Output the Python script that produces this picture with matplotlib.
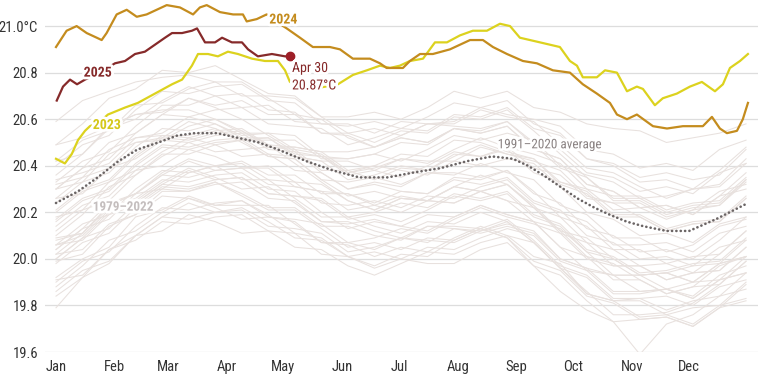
import matplotlib
matplotlib.use("Agg")
import matplotlib.pyplot as plt
import matplotlib.patheffects as pe
import logging

logging.getLogger('matplotlib.font_manager').setLevel(logging.ERROR)

plt.rcParams['font.family'] = ['Roboto Condensed', 'Liberation Sans Narrow', 'Roboto', 'DejaVu Sans']

# x = day of year
month_days = [0, 31, 59, 90, 120, 151, 181, 212, 243, 273, 304, 334]
month_labels = ['Jan', 'Feb', 'Mar', 'Apr', 'May', 'Jun', 'Jul', 'Aug', 'Sep', 'Oct', 'Nov', 'Dec']
y_ticks = [19.6, 19.8, 20.0, 20.2, 20.4, 20.6, 20.8, 21.0]
y_labels = ['19.6', '19.8', '20.0', '20.2', '20.4', '20.6', '20.8', '21.0°C']

# 2024
days_2024 = [0, 5.6, 10.9, 16.2, 21.5, 24.1, 26.7, 32, 37.3, 42.6, 47.8, 53.1, 58.4, 65.4, 72.3, 75.9,
             79.5, 86.5, 93.4, 98.6, 100.6, 105.9, 111.1, 116, 121.7, 128.7, 135.5, 144.5, 149.8, 156.6,
             165.6, 170.9, 174.4, 183, 186.7, 192, 198.8, 207.8, 213.1, 218.4, 225.2, 230.5, 237.9,
             246.3, 253.7, 262.1, 271.1, 277.9, 285.3, 292.2, 295.9, 301.2, 306.4, 314.9, 322.3,
             330.7, 341.2, 346, 350.2, 353.9, 359.2, 362.3, 365]
sst_2024 = [20.91, 20.98, 21.00, 20.97, 20.95, 20.94, 20.97, 21.05, 21.07, 21.04, 21.05, 21.07, 21.09,
            21.08, 21.05, 21.08, 21.09, 21.06, 21.05, 21.05, 21.02, 21.03, 21.05, 21.02, 20.99, 20.95,
            20.91, 20.91, 20.90, 20.86, 20.86, 20.84, 20.82, 20.82, 20.85, 20.88, 20.88, 20.90, 20.92,
            20.94, 20.94, 20.91, 20.88, 20.85, 20.84, 20.81, 20.80, 20.75, 20.71, 20.67, 20.62, 20.60,
            20.62, 20.57, 20.56, 20.57, 20.57, 20.61, 20.56, 20.54, 20.55, 20.60, 20.67]

# 2023
days_2023 = [0, 4.7, 8.3, 11.6, 15.3, 17.9, 23.2, 27.4, 36.4, 43.2, 52.2, 61.2, 66.5, 71.7, 74.9, 80.2,
             85.4, 90.7, 96, 103.4, 110.2, 117.1, 120.8, 123.4, 135.5, 148.7, 156.6, 164, 170.9, 176.2,
             181.4, 186.7, 193.6, 199.9, 206.2, 213.1, 219.9, 227.3, 234.2, 239.5, 244.7, 255.3, 265.8,
             271.1, 274.8, 277.9, 285.3, 289.6, 295.9, 301.2, 306.4, 309.6, 315.9, 320.1, 327.5, 334.4,
             340.7, 347.6, 351.8, 355.5, 360.8, 365]
sst_2023 = [20.43, 20.41, 20.45, 20.51, 20.55, 20.57, 20.59, 20.62, 20.65, 20.67, 20.71, 20.75, 20.77,
            20.83, 20.88, 20.88, 20.87, 20.89, 20.88, 20.86, 20.85, 20.85, 20.81, 20.76, 20.73, 20.75,
            20.79, 20.81, 20.83, 20.82, 20.83, 20.85, 20.86, 20.93, 20.93, 20.96, 20.98, 20.98, 21.01,
            21.00, 20.95, 20.93, 20.91, 20.85, 20.83, 20.78, 20.78, 20.81, 20.80, 20.72, 20.74, 20.73,
            20.66, 20.69, 20.71, 20.74, 20.76, 20.72, 20.75, 20.82, 20.85, 20.88]

# 2025 (to Apr 30)
days_2025 = [0.4, 3.7, 7.4, 11.1, 15.3, 23.2, 31.1, 36.4, 41.7, 46.9, 52.2, 57.5, 61.2, 66.5, 71.7, 74.4,
             78.6, 83.9, 87.6, 92.8, 98.1, 101.3, 106.5, 113.9, 120.8, 123.4]
sst_2025 = [20.68, 20.74, 20.77, 20.75, 20.77, 20.80, 20.84, 20.85, 20.88, 20.89, 20.92, 20.95, 20.97,
            20.97, 20.98, 20.99, 20.93, 20.93, 20.95, 20.93, 20.93, 20.90, 20.87, 20.88, 20.87, 20.87]

# 1991-2020 average
days_avg = [0, 11.6, 22, 33, 43, 54, 64, 73, 85, 96, 107, 117, 132, 146, 160, 175, 188, 203, 217, 230,
            241, 249, 257, 266, 275, 284, 292, 301, 310, 322, 334, 348, 365]
sst_avg = [20.24, 20.29, 20.35, 20.42, 20.47, 20.50, 20.53, 20.54, 20.54, 20.52, 20.50, 20.47, 20.42,
           20.38, 20.35, 20.35, 20.37, 20.39, 20.42, 20.44, 20.43, 20.40, 20.36, 20.31, 20.26, 20.22,
           20.19, 20.16, 20.14, 20.12, 20.12, 20.17, 20.24]

# 1979-2022, one value every 14 days
days_old = [0, 14, 28, 42, 56, 70, 84, 98, 112, 126, 140, 154, 168, 182, 196, 210, 224, 238, 252,
            266, 280, 294, 308, 322, 336, 350, 364]
sst_old = {
    1979: [19.92, 20.00, 20.05, 20.18, 20.21, 20.27, 20.23, 20.23, 20.23, 20.15, 20.07, 20.07, 20.04, 20.09, 20.08, 20.07, 20.12, 20.15, 20.12, 20.00, 19.96, 19.93, 19.86, 19.87, 19.83, 19.91, 19.94],
    1980: [19.99, 20.02, 20.14, 20.19, 20.29, 20.29, 20.33, 20.28, 20.22, 20.22, 20.14, 20.14, 20.10, 20.08, 20.14, 20.14, 20.13, 20.17, 20.08, 19.97, 19.93, 19.83, 19.83, 19.84, 19.80, 19.88, 19.91],
    1981: [19.88, 19.97, 20.08, 20.12, 20.20, 20.26, 20.22, 20.17, 20.18, 20.16, 20.07, 20.06, 20.01, 20.05, 20.03, 20.09, 20.14, 20.10, 20.01, 19.98, 19.85, 19.82, 19.83, 19.78, 19.82, 19.84, 19.87],
    1982: [19.84, 19.92, 20.04, 20.10, 20.18, 20.17, 20.20, 20.22, 20.16, 20.09, 20.08, 20.01, 19.97, 20.02, 20.01, 20.08, 20.13, 20.09, 19.97, 19.86, 19.78, 19.73, 19.59, 19.72, 19.76, 19.84, 19.94],
    1983: [20.06, 20.10, 20.21, 20.25, 20.33, 20.39, 20.35, 20.30, 20.31, 20.24, 20.16, 20.16, 20.12, 20.09, 20.14, 20.13, 20.12, 20.16, 20.07, 19.96, 19.85, 19.82, 19.75, 19.76, 19.72, 19.80, 19.83],
    1984: [19.79, 19.92, 19.98, 20.10, 20.12, 20.19, 20.16, 20.11, 20.12, 20.11, 20.02, 20.01, 19.96, 20.00, 19.98, 19.98, 20.04, 20.07, 19.97, 19.93, 19.82, 19.73, 19.74, 19.75, 19.71, 19.79, 19.89],
    1985: [19.91, 19.93, 20.04, 20.08, 20.16, 20.15, 20.18, 20.19, 20.12, 20.05, 20.04, 19.97, 19.93, 19.98, 20.03, 20.02, 20.07, 20.10, 20.07, 19.96, 19.92, 19.82, 19.82, 19.76, 19.79, 19.80, 19.90],
    1986: [19.90, 19.99, 20.03, 20.14, 20.22, 20.21, 20.24, 20.25, 20.18, 20.17, 20.15, 20.07, 20.09, 20.13, 20.11, 20.17, 20.22, 20.18, 20.15, 20.11, 20.00, 19.97, 19.97, 19.91, 19.94, 19.95, 20.05],
    1987: [20.04, 20.13, 20.24, 20.28, 20.36, 20.42, 20.38, 20.39, 20.39, 20.31, 20.29, 20.28, 20.23, 20.27, 20.25, 20.31, 20.36, 20.32, 20.23, 20.12, 20.01, 19.98, 19.91, 19.85, 19.88, 19.89, 19.99],
    1988: [20.06, 20.08, 20.19, 20.23, 20.31, 20.30, 20.33, 20.27, 20.21, 20.21, 20.13, 20.05, 20.07, 20.04, 20.09, 20.08, 20.13, 20.09, 19.99, 19.95, 19.84, 19.81, 19.74, 19.75, 19.71, 19.79, 19.82],
    1989: [19.86, 19.95, 19.99, 20.10, 20.18, 20.24, 20.20, 20.21, 20.14, 20.13, 20.11, 20.03, 20.05, 20.09, 20.07, 20.13, 20.11, 20.14, 20.11, 20.00, 19.96, 19.86, 19.86, 19.87, 19.83, 19.91, 19.94],
    1990: [20.00, 20.09, 20.20, 20.24, 20.32, 20.38, 20.34, 20.35, 20.28, 20.27, 20.25, 20.17, 20.19, 20.16, 20.21, 20.27, 20.25, 20.28, 20.18, 20.14, 20.03, 20.00, 19.93, 19.94, 19.97, 19.98, 20.08],
    1991: [20.08, 20.11, 20.23, 20.28, 20.30, 20.37, 20.40, 20.34, 20.34, 20.26, 20.18, 20.18, 20.14, 20.11, 20.16, 20.15, 20.20, 20.16, 20.07, 19.96, 19.86, 19.76, 19.76, 19.77, 19.81, 19.89, 19.99],
    1992: [20.02, 20.04, 20.15, 20.19, 20.27, 20.26, 20.23, 20.25, 20.19, 20.11, 20.09, 20.01, 20.03, 20.00, 20.05, 20.04, 20.09, 20.13, 20.10, 19.99, 19.95, 19.85, 19.85, 19.87, 19.84, 19.93, 19.97],
    1993: [19.98, 20.07, 20.11, 20.22, 20.30, 20.29, 20.32, 20.33, 20.26, 20.25, 20.16, 20.15, 20.17, 20.14, 20.19, 20.18, 20.23, 20.19, 20.16, 20.05, 20.01, 19.91, 19.91, 19.85, 19.88, 19.97, 20.01],
    1994: [20.06, 20.15, 20.19, 20.30, 20.38, 20.37, 20.40, 20.41, 20.34, 20.33, 20.24, 20.23, 20.25, 20.22, 20.27, 20.26, 20.31, 20.34, 20.24, 20.20, 20.16, 20.06, 20.06, 20.07, 20.03, 20.11, 20.14],
    1995: [20.18, 20.21, 20.33, 20.38, 20.40, 20.47, 20.44, 20.39, 20.40, 20.33, 20.32, 20.25, 20.21, 20.26, 20.25, 20.24, 20.29, 20.25, 20.16, 20.13, 20.03, 19.93, 19.93, 19.94, 19.90, 19.98, 20.01],
    1996: [20.00, 20.09, 20.13, 20.24, 20.32, 20.31, 20.34, 20.35, 20.28, 20.27, 20.26, 20.18, 20.20, 20.24, 20.22, 20.28, 20.26, 20.29, 20.19, 20.15, 20.04, 20.01, 19.94, 19.95, 19.98, 19.99, 20.09],
    1997: [20.12, 20.21, 20.25, 20.36, 20.44, 20.50, 20.46, 20.47, 20.48, 20.48, 20.46, 20.46, 20.48, 20.53, 20.58, 20.59, 20.65, 20.62, 20.60, 20.57, 20.47, 20.45, 20.39, 20.41, 20.38, 20.47, 20.51],
    1998: [20.49, 20.52, 20.57, 20.62, 20.64, 20.64, 20.60, 20.55, 20.49, 20.41, 20.33, 20.25, 20.21, 20.26, 20.25, 20.24, 20.29, 20.25, 20.22, 20.11, 20.07, 19.97, 19.97, 19.91, 19.94, 19.95, 20.05],
    1999: [20.09, 20.11, 20.22, 20.26, 20.34, 20.33, 20.36, 20.37, 20.30, 20.29, 20.20, 20.13, 20.16, 20.14, 20.12, 20.18, 20.23, 20.19, 20.16, 20.05, 19.95, 19.93, 19.93, 19.87, 19.90, 19.91, 20.01],
    2000: [20.04, 20.13, 20.17, 20.28, 20.36, 20.35, 20.38, 20.39, 20.32, 20.31, 20.29, 20.21, 20.23, 20.20, 20.25, 20.31, 20.29, 20.32, 20.22, 20.18, 20.07, 20.04, 19.97, 19.98, 19.94, 20.02, 20.12],
    2001: [20.16, 20.25, 20.29, 20.40, 20.48, 20.47, 20.50, 20.51, 20.44, 20.43, 20.34, 20.33, 20.35, 20.32, 20.37, 20.36, 20.41, 20.37, 20.34, 20.23, 20.19, 20.09, 20.09, 20.03, 20.06, 20.14, 20.17],
    2002: [20.20, 20.29, 20.33, 20.44, 20.52, 20.51, 20.54, 20.55, 20.48, 20.47, 20.45, 20.37, 20.39, 20.43, 20.41, 20.47, 20.52, 20.48, 20.45, 20.41, 20.30, 20.27, 20.27, 20.21, 20.24, 20.25, 20.35],
    2003: [20.32, 20.35, 20.47, 20.52, 20.54, 20.61, 20.58, 20.53, 20.54, 20.47, 20.38, 20.38, 20.34, 20.39, 20.38, 20.45, 20.44, 20.48, 20.39, 20.36, 20.26, 20.24, 20.18, 20.12, 20.15, 20.16, 20.26],
    2004: [20.26, 20.28, 20.39, 20.43, 20.51, 20.50, 20.53, 20.54, 20.47, 20.46, 20.44, 20.36, 20.38, 20.35, 20.40, 20.46, 20.44, 20.47, 20.37, 20.33, 20.29, 20.19, 20.19, 20.13, 20.16, 20.17, 20.27],
    2005: [20.30, 20.33, 20.45, 20.50, 20.52, 20.59, 20.56, 20.51, 20.52, 20.45, 20.44, 20.37, 20.40, 20.38, 20.36, 20.42, 20.40, 20.43, 20.41, 20.31, 20.20, 20.17, 20.10, 20.11, 20.07, 20.15, 20.18],
    2006: [20.17, 20.26, 20.30, 20.41, 20.49, 20.48, 20.51, 20.52, 20.45, 20.44, 20.42, 20.34, 20.36, 20.40, 20.38, 20.44, 20.49, 20.45, 20.42, 20.38, 20.27, 20.24, 20.24, 20.18, 20.21, 20.29, 20.32],
    2007: [20.34, 20.37, 20.41, 20.52, 20.53, 20.53, 20.56, 20.50, 20.44, 20.43, 20.34, 20.27, 20.29, 20.26, 20.25, 20.31, 20.29, 20.32, 20.22, 20.12, 20.09, 20.00, 19.93, 19.94, 19.90, 19.98, 20.01],
    2008: [20.02, 20.11, 20.23, 20.28, 20.37, 20.43, 20.40, 20.42, 20.36, 20.36, 20.28, 20.28, 20.24, 20.29, 20.28, 20.35, 20.34, 20.38, 20.29, 20.18, 20.14, 20.04, 20.04, 19.98, 20.01, 20.02, 20.12],
    2009: [20.14, 20.23, 20.27, 20.38, 20.46, 20.52, 20.49, 20.51, 20.51, 20.51, 20.43, 20.43, 20.45, 20.50, 20.49, 20.56, 20.55, 20.59, 20.50, 20.47, 20.37, 20.35, 20.29, 20.31, 20.28, 20.37, 20.41],
    2010: [20.42, 20.45, 20.57, 20.62, 20.63, 20.69, 20.65, 20.60, 20.53, 20.46, 20.37, 20.30, 20.32, 20.29, 20.28, 20.34, 20.32, 20.35, 20.25, 20.21, 20.10, 20.07, 20.00, 20.01, 19.97, 20.05, 20.08],
    2011: [20.10, 20.19, 20.31, 20.36, 20.45, 20.45, 20.49, 20.44, 20.45, 20.38, 20.37, 20.30, 20.33, 20.31, 20.37, 20.37, 20.35, 20.38, 20.28, 20.24, 20.13, 20.10, 20.03, 20.04, 20.00, 20.08, 20.18],
    2012: [20.21, 20.30, 20.34, 20.45, 20.53, 20.52, 20.55, 20.56, 20.49, 20.48, 20.46, 20.38, 20.40, 20.45, 20.44, 20.51, 20.50, 20.46, 20.43, 20.32, 20.28, 20.18, 20.18, 20.12, 20.15, 20.16, 20.26],
    2013: [20.24, 20.33, 20.37, 20.48, 20.56, 20.55, 20.58, 20.52, 20.52, 20.44, 20.42, 20.42, 20.38, 20.43, 20.42, 20.42, 20.48, 20.45, 20.43, 20.33, 20.30, 20.21, 20.22, 20.17, 20.21, 20.23, 20.34],
    2014: [20.30, 20.39, 20.43, 20.54, 20.62, 20.61, 20.64, 20.65, 20.58, 20.57, 20.56, 20.49, 20.52, 20.56, 20.55, 20.62, 20.61, 20.65, 20.56, 20.53, 20.43, 20.41, 20.35, 20.37, 20.34, 20.36, 20.47],
    2015: [20.42, 20.51, 20.55, 20.66, 20.67, 20.73, 20.76, 20.70, 20.70, 20.69, 20.61, 20.61, 20.63, 20.60, 20.65, 20.72, 20.69, 20.72, 20.65, 20.63, 20.58, 20.56, 20.55, 20.50, 20.52, 20.54, 20.58],
    2016: [20.59, 20.68, 20.72, 20.76, 20.78, 20.79, 20.76, 20.76, 20.69, 20.62, 20.60, 20.52, 20.48, 20.52, 20.50, 20.56, 20.54, 20.57, 20.47, 20.43, 20.32, 20.29, 20.22, 20.23, 20.19, 20.27, 20.30],
    2017: [20.36, 20.45, 20.56, 20.60, 20.68, 20.74, 20.70, 20.71, 20.64, 20.63, 20.54, 20.53, 20.48, 20.52, 20.50, 20.56, 20.54, 20.57, 20.47, 20.43, 20.32, 20.29, 20.22, 20.23, 20.19, 20.27, 20.37],
    2018: [20.26, 20.35, 20.39, 20.50, 20.51, 20.57, 20.60, 20.54, 20.54, 20.53, 20.44, 20.43, 20.45, 20.42, 20.47, 20.53, 20.51, 20.54, 20.51, 20.40, 20.36, 20.33, 20.26, 20.27, 20.30, 20.31, 20.41],
    2019: [20.40, 20.49, 20.53, 20.64, 20.72, 20.71, 20.74, 20.75, 20.68, 20.67, 20.58, 20.57, 20.59, 20.56, 20.61, 20.67, 20.65, 20.68, 20.58, 20.54, 20.43, 20.40, 20.33, 20.34, 20.30, 20.38, 20.48],
    2020: [20.49, 20.58, 20.69, 20.73, 20.81, 20.80, 20.83, 20.77, 20.71, 20.70, 20.61, 20.54, 20.56, 20.53, 20.58, 20.57, 20.56, 20.59, 20.49, 20.39, 20.35, 20.25, 20.25, 20.19, 20.22, 20.23, 20.33],
    2021: [20.30, 20.39, 20.50, 20.54, 20.62, 20.69, 20.66, 20.68, 20.62, 20.62, 20.54, 20.54, 20.50, 20.55, 20.54, 20.61, 20.60, 20.64, 20.55, 20.45, 20.35, 20.26, 20.26, 20.20, 20.23, 20.24, 20.34],
    2022: [20.33, 20.42, 20.46, 20.57, 20.66, 20.66, 20.70, 20.65, 20.66, 20.59, 20.58, 20.58, 20.54, 20.59, 20.58, 20.58, 20.64, 20.61, 20.59, 20.49, 20.39, 20.37, 20.31, 20.26, 20.30, 20.32, 20.43],
}

c2024 = '#c48c1e'
c2023 = '#dcd21e'
c2025 = '#862a2a'
halo = [pe.withStroke(linewidth=4, foreground='white')]

fig = plt.figure(figsize=(7.58, 3.80), dpi=100)
ax = fig.add_axes([45 / 758, 1 - 352 / 380, 1 - 45 / 758, 352 / 380])

# old years
for yr in sst_old:
    ax.plot(days_old, sst_old[yr], color='#e8e1de', lw=0.75, zorder=2)

# average, dotted
ax.plot(days_avg, sst_avg, color='#6b6565', lw=1.9, linestyle=(0, (0.05, 1.6)),
        dash_capstyle='round', zorder=3)

ax.plot(days_2023, sst_2023, color=c2023, lw=1.6, zorder=4)
ax.plot(days_2024, sst_2024, color=c2024, lw=1.6, zorder=5)
ax.plot(days_2025, sst_2025, color=c2025, lw=1.6, zorder=6)
ax.plot(days_2025[-1], sst_2025[-1], 'o', color='#9e1f28', ms=6, zorder=7)

# labels
ax.text(112.5, 21.028, '2024', color=c2024, fontsize=10, fontweight='bold',
        va='center', ha='left', path_effects=halo, zorder=8)
ax.text(14.6, 20.80, '2025', color=c2025, fontsize=10, fontweight='bold',
        va='center', ha='left', path_effects=halo, zorder=8)
ax.text(19.4, 20.575, '2023', color='#d4c81a', fontsize=10, fontweight='bold',
        va='center', ha='left', path_effects=halo, zorder=8)
ax.text(124.5, 20.82, 'Apr 30', color=c2025, fontsize=10,
        va='center', ha='left', path_effects=halo, zorder=8)
ax.text(124.5, 20.745, '20.87°C', color=c2025, fontsize=10,
        va='center', ha='left', path_effects=halo, zorder=8)
ax.text(233, 20.49, '1991–2020 average', color='#8a8282', fontsize=9.5,
        va='center', ha='left', path_effects=halo, zorder=8)
ax.text(19.4, 20.222, '1979–2022', color='#c4bebe', fontsize=9.5, fontweight='bold',
        va='center', ha='left', path_effects=halo, zorder=8)

ax.set_xlim(-5.8, 370.3)
ax.set_ylim(19.6, 21.112)
ax.set_xticks(month_days)
ax.set_xticklabels(month_labels)
ax.set_yticks(y_ticks)
ax.set_yticklabels(y_labels)
ax.tick_params(length=0, labelsize=10.5, labelcolor='#333333')
ax.tick_params(axis='y', pad=5)
ax.tick_params(axis='x', pad=6)
for lab in ax.get_yticklabels():
    lab.set_horizontalalignment('right')
ax.grid(axis='y', color='#dddddd', lw=0.9, zorder=0)
ax.set_axisbelow(True)
for s in ax.spines.values():
    s.set_visible(False)

fig.savefig('out.png', dpi=100)
